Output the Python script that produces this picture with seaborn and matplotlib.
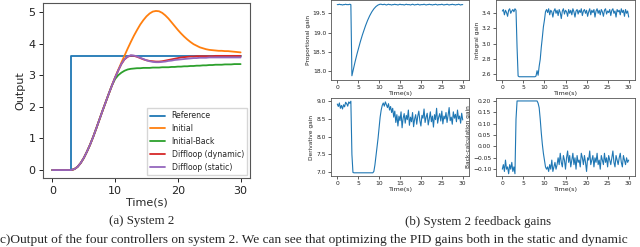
import numpy as np
import matplotlib
matplotlib.use("Agg")
import matplotlib.pyplot as plt
import seaborn as sns

# ── Data: system 2 output (left panel) ─────────────────────────────────────────
t_out = np.linspace(0, 30, 61)
t_ref = [0, 3, 30]
reference = [0.0, 3.6, 3.6]

rise_common = [0, 0, 0, 0, 0, 0, 0,
               0.03, 0.10, 0.22, 0.38, 0.58, 0.80, 1.05, 1.32, 1.60, 1.88,
               2.15, 2.42, 2.68]          # t = 0 .. 9.5

initial = rise_common + [
    2.93, 3.17, 3.40, 3.62, 3.84, 4.05, 4.25, 4.43, 4.60, 4.74, 4.86,
    4.95, 5.01, 5.03, 5.02, 4.97, 4.89, 4.79, 4.67, 4.55, 4.43, 4.32,
    4.22, 4.13, 4.05, 3.98, 3.93, 3.88, 3.85, 3.82, 3.80, 3.79, 3.78,
    3.77, 3.77, 3.76, 3.76, 3.75, 3.74, 3.73, 3.72]

initial_back = rise_common + [
    2.88, 3.00, 3.08, 3.14, 3.18, 3.20, 3.21, 3.22, 3.22, 3.23, 3.23,
    3.23, 3.24, 3.24, 3.24, 3.25, 3.25, 3.25, 3.26, 3.26, 3.27, 3.27,
    3.28, 3.28, 3.29, 3.29, 3.30, 3.30, 3.31, 3.31, 3.32, 3.32, 3.33,
    3.33, 3.33, 3.34, 3.34, 3.34, 3.35, 3.35, 3.35]

diffloop_dyn = rise_common + [
    2.93, 3.15, 3.35, 3.50, 3.58, 3.62, 3.61, 3.58, 3.54, 3.50, 3.47,
    3.45, 3.44, 3.43, 3.43, 3.44, 3.46, 3.48, 3.50, 3.52, 3.54, 3.56,
    3.57, 3.58, 3.59, 3.59, 3.60, 3.60, 3.60, 3.60, 3.60, 3.60, 3.61,
    3.61, 3.61, 3.61, 3.61, 3.61, 3.61, 3.61, 3.61]

diffloop_stat = rise_common + [
    2.93, 3.15, 3.36, 3.51, 3.59, 3.63, 3.62, 3.59, 3.55, 3.51, 3.47,
    3.44, 3.42, 3.41, 3.41, 3.42, 3.43, 3.45, 3.46, 3.48, 3.49, 3.50,
    3.51, 3.52, 3.53, 3.54, 3.54, 3.55, 3.55, 3.55, 3.56, 3.56, 3.56,
    3.56, 3.56, 3.56, 3.56, 3.56, 3.56, 3.56, 3.56]

series_labels = ["Reference", "Initial", "Initial-Back",
                 "Diffloop (dynamic)", "Diffloop (static)"]

# ── Data: feedback gains (right panels) ────────────────────────────────────────
t_gain = np.linspace(0, 30, 121)

prop_gain = (
    [19.73, 19.73, 19.74, 19.73, 19.73, 19.72, 19.73, 19.73, 19.74, 19.73,
     19.73, 19.73, 19.74, 19.73]
    + [17.88, 18.00, 18.12, 18.24, 18.35, 18.46, 18.56, 18.66, 18.76, 18.85,
       18.94, 19.02, 19.10, 19.18, 19.25, 19.32, 19.38, 19.44, 19.49, 19.54,
       19.58, 19.62, 19.65, 19.68, 19.70, 19.72, 19.73, 19.74]
    + [19.74, 19.73, 19.73, 19.74, 19.73, 19.72, 19.73, 19.74, 19.73, 19.73,
       19.72, 19.73, 19.73, 19.74, 19.73, 19.73, 19.72, 19.73, 19.74, 19.73,
       19.73, 19.73, 19.72, 19.73, 19.74, 19.73, 19.73, 19.73, 19.72, 19.73,
       19.74, 19.73, 19.72, 19.73, 19.73, 19.74, 19.73, 19.72, 19.73, 19.73,
       19.73, 19.74, 19.73, 19.72, 19.73, 19.73, 19.74, 19.73, 19.73, 19.72,
       19.73, 19.73, 19.74, 19.73, 19.72, 19.73, 19.73, 19.73, 19.74, 19.73,
       19.72, 19.73, 19.73, 19.74, 19.73, 19.72, 19.73, 19.73, 19.74, 19.73,
       19.73, 19.72, 19.73, 19.73, 19.74, 19.73, 19.72, 19.73, 19.73])

int_gain = (
    [3.43, 3.45, 3.38, 3.44, 3.41, 3.36, 3.44, 3.46, 3.40, 3.43, 3.45, 3.42,
     3.46, 3.44]
    + [2.95, 2.57] + [2.56] * 16
    + [2.57, 2.64, 2.58, 2.70, 2.79, 2.95, 3.08, 3.22, 3.31, 3.42]
    + [3.45, 3.41, 3.46, 3.38, 3.44, 3.42, 3.35, 3.43, 3.46, 3.40,
       3.44, 3.37, 3.45, 3.41, 3.33, 3.43, 3.46, 3.39, 3.44, 3.42,
       3.36, 3.45, 3.40, 3.44, 3.38, 3.46, 3.42, 3.35, 3.43, 3.45,
       3.39, 3.44, 3.41, 3.46, 3.37, 3.43, 3.45, 3.40, 3.44, 3.36,
       3.42, 3.46, 3.38, 3.44, 3.41, 3.45, 3.35, 3.43, 3.46, 3.40,
       3.44, 3.38, 3.45, 3.42, 3.36, 3.44, 3.46, 3.39, 3.43, 3.41,
       3.45, 3.37, 3.44, 3.46, 3.40, 3.43, 3.35, 3.45, 3.42, 3.44,
       3.38, 3.46, 3.41, 3.44, 3.36, 3.45, 3.40, 3.43, 3.35])

deriv_gain = (
    [8.92, 8.85, 8.95, 8.80, 8.88, 8.78, 8.90, 8.84, 8.97, 8.93, 8.86, 8.98,
     8.94, 9.00]
    + [7.50, 6.99] + [6.98] * 19
    + [7.02, 7.20, 7.45, 7.70, 7.95, 8.25, 8.55, 8.75, 8.88, 8.95, 8.86, 8.98]
    + [8.90, 8.82, 8.93, 8.75, 8.85, 8.68, 8.80]
    + [8.55, 8.72, 8.40, 8.62, 8.30, 8.58, 8.45, 8.70, 8.25, 8.52,
       8.65, 8.38, 8.60, 8.48, 8.75, 8.32, 8.55, 8.42, 8.68, 8.28,
       8.50, 8.62, 8.35, 8.58, 8.72, 8.45, 8.30, 8.60, 8.52, 8.78,
       8.40, 8.55, 8.66, 8.33, 8.50, 8.70, 8.42, 8.58, 8.27, 8.62,
       8.48, 8.80, 8.38, 8.55, 8.65, 8.44, 8.72, 8.36, 8.58, 8.50,
       8.68, 8.40, 8.60, 8.82, 8.45, 8.55, 8.35, 8.70, 8.52, 8.63,
       8.42, 8.75, 8.50, 8.58, 8.38, 8.66, 8.47])

back_gain = (
    [-0.10, -0.08, -0.11, -0.06, -0.10, -0.09, -0.12, -0.08, -0.10, -0.07,
     -0.11, -0.09, -0.12]
    + [0.12, 0.20] + [0.20] * 19
    + [0.19, 0.17, 0.12, 0.06, 0.01, -0.03, -0.06, -0.09, -0.10]
    + [-0.09, -0.11, -0.08, -0.10, -0.06, -0.11, -0.09, -0.07, -0.10, -0.08]
    + [-0.05, -0.08, -0.03, -0.07, -0.09, -0.04, -0.06, -0.10, -0.05, -0.02,
       -0.07, -0.04, -0.09, -0.06, -0.03, -0.08, -0.05, -0.10, -0.04, -0.07,
       -0.06, -0.09, -0.03, -0.05, -0.08, -0.04, -0.07, -0.11, -0.05, -0.06,
       -0.02, -0.08, -0.06, -0.04, -0.09, -0.05, -0.07, -0.03, -0.08, -0.06,
       -0.10, -0.04, -0.06, -0.08, -0.03, -0.07, -0.05, -0.09, -0.04, -0.06,
       -0.08, -0.05, -0.02, -0.07, -0.09, -0.04, -0.06, -0.08, -0.05, -0.03,
       -0.07, -0.09, -0.04, -0.06, -0.08, -0.05, -0.07, -0.06])

gain_series = [prop_gain, int_gain, deriv_gain, back_gain]
gain_labels = ["Proportional gain", "Integral gain",
               "Derivative gain", "Back-calculation gain"]

caption_a = "(a) System 2"
caption_b = "(b) System 2 feedback gains"
body_text = ("c)Output of the four controllers on system 2. We can see that "
             "optimizing the PID gains both in the static and dynamic")

# ── Figure ─────────────────────────────────────────────────────────────────────
sns.set_style("ticks")
plt.rcParams.update({
    "font.family": ["DejaVu Sans"],
    "axes.edgecolor": "#555555",
    "axes.linewidth": 0.8,
    "xtick.color": "#222222",
    "ytick.color": "#222222",
})
colors = sns.color_palette("tab10")

W, H = 640, 247
fig = plt.figure(figsize=(6.4, 2.47), dpi=100)


def box(x0, y0, x1, y1):
    # pixel box (from top-left) -> figure fraction rect
    return [x0 / W, 1 - y1 / H, (x1 - x0) / W, (y1 - y0) / H]


# left panel
ax = fig.add_axes(box(43, 3, 250, 178))
sns.lineplot(x=t_ref, y=reference, ax=ax, color=colors[0], lw=1.3,
             drawstyle="steps-post", label=series_labels[0])
for i, ys in enumerate([initial, initial_back, diffloop_dyn, diffloop_stat]):
    sns.lineplot(x=t_out, y=ys, ax=ax, color=colors[i + 1], lw=1.3,
                 label=series_labels[i + 1])
ax.set_xticks([0, 10, 20, 30])
ax.set_yticks([0, 1, 2, 3, 4, 5])
ax.tick_params(labelsize=8, length=3, width=0.7, pad=2.5)
ax.set_xlabel("Time(s)", fontsize=8, labelpad=1)
ax.set_ylabel("Output", fontsize=8, labelpad=2)
ax.legend(loc="lower right", fontsize=5.6, frameon=True, fancybox=False,
          edgecolor="#cccccc", handlelength=2.0, borderaxespad=0.4)

# right panels
rects = [box(331, 0, 469, 80), box(496, 0, 635, 80),
         box(331, 98, 469, 176), box(496, 98, 635, 176)]
yticks = [[18.0, 18.5, 19.0, 19.5], [2.6, 2.8, 3.0, 3.2, 3.4],
          [7.0, 7.5, 8.0, 8.5, 9.0], [-0.10, -0.05, 0.00, 0.05, 0.10, 0.15, 0.20]]
ylims = [(17.77, 19.85), (2.517, 3.576), (6.89, 9.09), (-0.13, 0.213)]
fmts = ["{:.1f}", "{:.1f}", "{:.1f}", "{:.2f}"]
for rect, ys, lab, yt, yl, fmt in zip(rects, gain_series, gain_labels,
                                      yticks, ylims, fmts):
    g = fig.add_axes(rect)
    sns.lineplot(x=t_gain, y=ys, ax=g, color=colors[0], lw=0.8)
    g.set_xlim(-1.5, 31.5)
    g.set_ylim(*yl)
    g.set_xticks([0, 5, 10, 15, 20, 25, 30])
    g.set_yticks(yt)
    g.set_yticklabels([fmt.format(v).replace("-", "\u2212") for v in yt])
    g.tick_params(labelsize=4.3, length=2, width=0.5, pad=1.5)
    g.set_xlabel("Time(s)", fontsize=4.6, labelpad=0.5)
    g.set_ylabel(lab, fontsize=4.2, labelpad=1.5)
    for s in g.spines.values():
        s.set_linewidth(0.6)

# captions
fig.text(142 / W, 1 - 221 / H, caption_a, ha="center", va="center",
         family=["Liberation Serif"], fontsize=9.3)
fig.text(478 / W, 1 - 222 / H, caption_b, ha="center", va="center",
         family=["Liberation Serif"], fontsize=9.3)
fig.text(0.5 / W, 1.5 / H, body_text, ha="left", va="bottom",
         family=["Liberation Serif"], fontsize=9.6)

fig.savefig("out.png", dpi=100)
